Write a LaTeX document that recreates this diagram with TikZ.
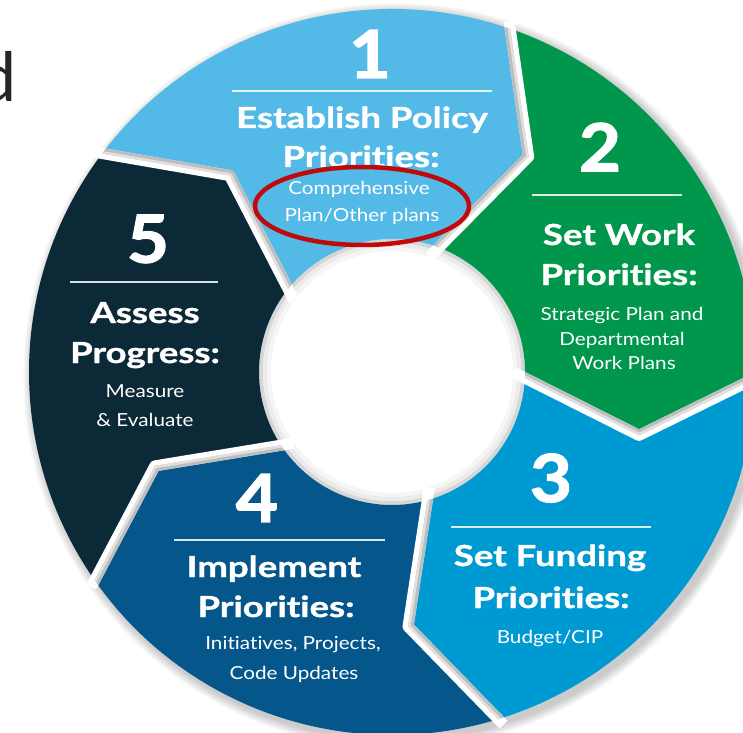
\documentclass[tikz,border=0pt]{standalone}
\usepackage{fontspec}
\setmainfont{Lato}
\newfontfamily\latoT[FakeStretch=1.26, Ligatures=NoCommon, BoldFeatures={FakeBold=1.2}]{Lato}
\newfontfamily\latoS[FakeStretch=1.15, Ligatures=NoCommon]{Lato}
\newfontfamily\latoN[FakeStretch=1.1, BoldFeatures={FakeBold=2}]{Lato}
\usetikzlibrary{calc}
\definecolor{segA}{HTML}{53B9E7}
\definecolor{segB}{HTML}{00964B}
\definecolor{segC}{HTML}{009AD2}
\definecolor{segD}{HTML}{04568B}
\definecolor{segE}{HTML}{0C2937}
\definecolor{ringred}{HTML}{BE0A0A}
\definecolor{dgray}{HTML}{262626}
\newcommand{\segpath}[2]{(#1:363) arc[start angle=#1, end angle=#2, radius=363] -- ({#2-13.4}:255) -- ({#2-1.6}:133) arc[start angle={#2-1.6}, end angle={#1-1.6}, radius=133] -- ({#1-13.4}:255) -- cycle}
\newcommand{\titlefont}{\latoT\bfseries\fontsize{29}{29}\selectfont}
\newcommand{\subfont}{\latoS\fontsize{18}{18}\selectfont}
\newcommand{\numfont}{\latoN\bfseries\fontsize{66}{66}\selectfont}
\tikzset{
  ttl/.style={anchor=base, inner sep=0pt, text=white, font=\titlefont},
  sub/.style={anchor=base, inner sep=0pt, text=white, font=\subfont},
  num/.style={anchor=center, inner sep=0pt, text=white, font=\numfont},
  divider/.style={draw=white, draw opacity=0.85, line width=1.6pt},
  gapwhite/.style={draw=white, line width=11pt, line join=round, line cap=butt},
  gapdark/.style={draw=black!26, line width=11pt, line join=round},
  gaplight/.style={draw=black!12, line width=5pt, line join=round},
  hilite/.style={draw=ringred, line width=4.5pt}
}
\begin{document}
\begin{tikzpicture}[x=1pt, y=1pt]
\useasboundingbox (0,0) rectangle (743,732);
\clip (0,0) rectangle (743,732);
\fill[white] (0,0) rectangle (743,732);
% cut-off word at top left
\node[anchor=base east, inner sep=0pt, text=dgray, font=\fontsize{68}{68}\selectfont] (dchar) at (17,630) {d};
\begin{scope}[shift={(392,360)}]
  % outer soft shadow
  \foreach \i in {1,...,6} {
    \fill[black, opacity=0.035] (4,-4) circle ({363+1.6*\i});
  }
  % hole
  \fill[white] (0,0) circle (134);
  \draw[black!16, line width=4pt] (0,0) circle (131);
  \draw[black!8, line width=4pt] (0,0) circle (127);
  \draw[black!4, line width=4pt] (0,0) circle (123);
  % segments
  \fill[segA] \segpath{143}{71};
  \fill[segB] \segpath{71}{-1};
  \fill[segC] \segpath{-1}{-73};
  \fill[segD] \segpath{-73}{-145};
  \fill[segE] \segpath{-145}{-217};
  % boundary coordinates
  \foreach \k/\a in {0/71, 1/-1, 2/-73, 3/-145, 4/143} {
    \coordinate (o\k) at (\a:363);
    \coordinate (v\k) at ({\a-13.4}:255);
    \coordinate (i\k) at ({\a-1.6}:133);
    \coordinate (oe\k) at ($(v\k)!1.06!(o\k)$);
    \coordinate (ie\k) at ($(v\k)!1.1!(i\k)$);
  }
\end{scope}
% gaps: white core, grey shading on one side
\foreach \k in {0,...,4} {
  \draw[gapwhite] (oe\k) -- (v\k) -- (ie\k);
}
\begin{scope}[shift={(392,360)}]
  \begin{scope}\clip \segpath{143}{71};
    \draw[gapdark, shift={(-392,-360)}] (oe0) -- (v0) -- (ie0);
    \draw[gaplight, shift={(-392,-360)}] (oe0) -- (v0) -- (ie0);
    \draw[gapdark, shift={(-392,-360)}] (oe4) -- (v4) -- (ie4);
    \draw[gaplight, shift={(-392,-360)}] (oe4) -- (v4) -- (ie4);
  \end{scope}
  \begin{scope}\clip \segpath{71}{-1};
    \draw[gapdark, shift={(-392,-360)}] (oe1) -- (v1) -- (ie1);
    \draw[gaplight, shift={(-392,-360)}] (oe1) -- (v1) -- (ie1);
  \end{scope}
  \begin{scope}\clip \segpath{-1}{-73};
    \draw[gapdark, shift={(-392,-360)}] (oe2) -- (v2) -- (ie2);
    \draw[gaplight, shift={(-392,-360)}] (oe2) -- (v2) -- (ie2);
  \end{scope}
  \begin{scope}\clip \segpath{-73}{-145};
    \draw[gapdark, shift={(-392,-360)}] (oe3) -- (v3) -- (ie3);
    \draw[gaplight, shift={(-392,-360)}] (oe3) -- (v3) -- (ie3);
  \end{scope}
\end{scope}
% dividers
\draw[divider] (232,641) -- (492,641);
\draw[divider] (532,537) -- (682,537);
\draw[divider] (451,205) -- (651,205);
\draw[divider] (174,192) -- (385,192);
\draw[divider] (70,450) -- (218,450);
% segment 1
\node[num] (n1) at (370,678) {1};
\node[ttl] (t1a) at (362,604) {Establish Policy};
\node[ttl] (t1b) at (361,565) {Priorities:};
\node[sub] (s1a) at (359,537) {Comprehensive};
\node[sub] (s1b) at (362,510) {Plan/Other plans};
\draw[hilite] (362,526) ellipse [x radius=107, y radius=39];
% segment 2
\node[num] (n2) at (600,585) {2};
\node[ttl] (t2a) at (619,487) {Set Work};
\node[ttl] (t2b) at (619,447) {Priorities:};
\node[sub] (s2a) at (622,412) {Strategic Plan and};
\node[sub] (s2b) at (622,387) {Departmental};
\node[sub] (s2c) at (624,363) {Work Plans};
% segment 3
\node[num] (n3) at (551,254) {3};
\node[ttl] (t3a) at (550,166) {Set Funding};
\node[ttl] (t3b) at (551,124) {Priorities:};
\node[sub] (s3a) at (550,89) {Budget/CIP};
% segment 4
\node[num] (n4) at (257,234) {4};
\node[ttl] (t4a) at (274,155) {Implement};
\node[ttl] (t4b) at (276,115) {Priorities:};
\node[sub] (s4a) at (293,83) {Initiatives, Projects,};
\node[sub] (s4b) at (294,53) {Code Updates};
% segment 5
\node[num] (n5) at (148,493) {5};
\node[ttl] (t5a) at (145,409) {Assess};
\node[ttl] (t5b) at (145,369) {Progress:};
\node[sub] (s5a) at (145,335) {Measure};
\node[sub] (s5b) at (145,306) {\&\ Evaluate};
\end{tikzpicture}
\end{document}
